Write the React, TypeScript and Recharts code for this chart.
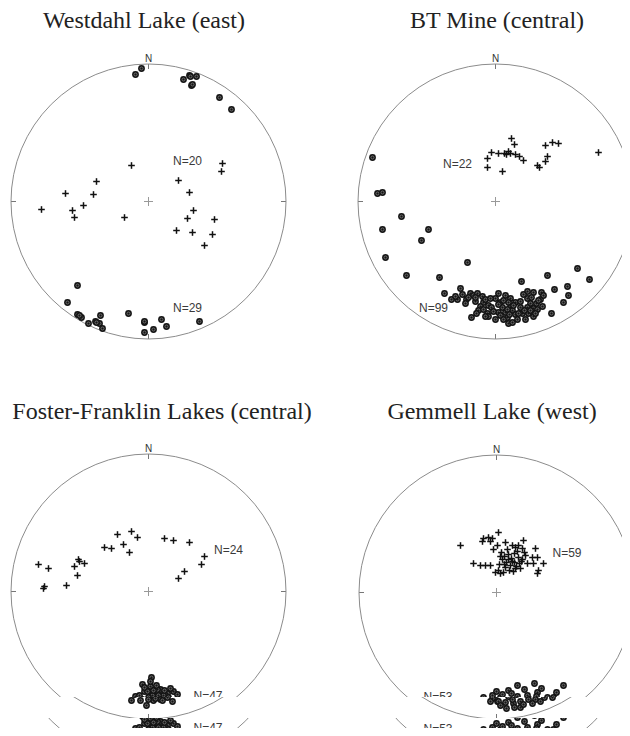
import { ScatterChart, Scatter, XAxis, YAxis, ReferenceDot, ReferenceLine } from 'recharts';

type Pt = [number, number];
type Tag = { x: number; y: number; text: string };

// net coordinates: offset from the centre of each net, east / north positive, net radius = R
const R = 137.5;
const M = 12;
const SIZE = 2 * R + 2 * M;

const TITLES = ['Westdahl Lake (east)', 'BT Mine (central)', 'Foster-Franklin Lakes (central)', 'Gemmell Lake (west)'];

const westdahlCrosses: Pt[] = [
  [-17, 36], [74, 38], [73, 30], [-52, 20], [-83, 8], [-55, 7], [-107, -8], [-76, -9], [-65, -4], [-74, -16],
  [-24, -16], [30, 21], [41, 9], [45, -9], [39, -17], [66, -18], [28, -29], [44, -31], [64, -33], [56, -44],
];
const westdahlDots: Pt[] = [
  [-13, 127], [-7, 133], [35, 122], [41, 126], [48, 125], [43, 116], [71, 104], [83, 92],
  [-71, -84], [-81, -101], [-71, -113], [-67, -116], [-60, -122], [-53, -120], [-48, -114], [-49, -122],
  [-46, -127], [-20, -112], [-4, -121], [-4, -131], [5, -128], [13, -118], [18, -125], [51, -120],
  [42, 125], [-69, -114], [-52, -121], [-4, -120], [44, 117],
];
const westdahlTags: Tag[] = [
  { x: 39, y: 41, text: 'N=20' },
  { x: 39, y: -106, text: 'N=29' },
];

const btCrosses: Pt[] = [
  [16, 63], [19, 57], [-4, 49], [3, 48], [9, 48], [13, 50], [15, 48], [20, 47], [24, 45], [28, 41], [-8, 43],
  [-8, 34], [7, 30], [50, 56], [57, 59], [63, 58], [52, 45], [50, 40], [42, 36], [44, 34], [103, 49], [11, 47],
];
const btDots: Pt[] = [
  [-123, 44], [-118, 8], [-113, 9], [-94, -15], [-113, -28], [-67, -28], [-74, -39], [-110, -56], [-28, -61], [-89, -74],
  [-56, -76], [-51, -92], [-44, -98], [-38, -98], [-35, -87], [-29, -98], [-25, -92], [-22, -94], [-18, -92], [-13, -95],
  [-12, -101], [-15, -105], [-7, -104], [-4, -106], [-8, -112], [-7, -115], [-17, -109], [-24, -116], [3, -92], [10, -94],
  [15, -97], [5, -101], [13, -101], [7, -106], [15, -106], [3, -111], [10, -111], [17, -109], [5, -114], [12, -116],
  [20, -113], [13, -122], [17, -121], [26, -80], [32, -90], [38, -91], [46, -91], [32, -97], [35, -102], [41, -102],
  [32, -106], [38, -107], [27, -112], [33, -112], [38, -115], [35, -109], [42, -108], [56, -112], [52, -74], [59, -88],
  [72, -85], [73, -94], [68, -101], [94, -78], [82, -67], [47, -105], [23, -112], [20, -101], [-20, -100], [-10, -98],
  [0, -97], [8, -99], [18, -104], [25, -100], [-2, -110], [0, -118], [22, -118], [30, -118], [-30, -102], [-40, -95],
  [28, -93], [45, -98], [-5, -97], [3, -103], [12, -108], [-12, -108], [36, -96], [40, -112], [-20, -96], [14, -113],
  [25, -106], [-33, -93], [48, -94], [-19, -112], [8, -118], [29, -109], [-10, -115], [43, -99], [-27, -96],
];
const btTags: Tag[] = [
  { x: -38, y: 38, text: 'N=22' },
  { x: -62, y: -106, text: 'N=99' },
];

const fosterCrosses: Pt[] = [
  [-31, 57], [-17, 60], [-11, 54], [-44, 44], [-37, 43], [-25, 47], [-19, 39], [16, 53], [25, 51], [41, 49],
  [56, 35], [53, 27], [36, 20], [30, 13], [-110, 27], [-100, 23], [-74, 25], [-69, 30], [-64, 28], [-71, 16],
  [-82, 6], [-105, 3], [-104, 5], [-70, 32],
];
const fosterDots: Pt[] = [
  [3, -86], [-6, -93], [2, -95], [12, -98], [25, -100], [19, -102], [15, -104], [2, -103], [7, -105], [-13, -105],
  [-17, -119], [-8, -119], [-2, -124], [24, -120], [5, -119], [12, -118], [4, -104], [10, -104], [0, -106], [20, -106],
  [-4, -100], [9, -98], [16, -99], [22, -97], [-10, -110], [-3, -112], [3, -113], [10, -112], [17, -113], [25, -110],
  [-14, -113], [7, -117], [0, -118], [14, -119], [19, -116], [-6, -108], [12, -108], [-9, -104], [5, -99], [29, -103],
  [-1, -100], [27, -112], [-20, -110], [2, -90], [8, -94], [-4, -96], [18, -110],
];
const fosterTags: Tag[] = [
  { x: 80, y: 42, text: 'N=24' },
  { x: 59.5, y: -104.5, text: 'N=47' },
];

const gemmellCrosses: Pt[] = [
  [-36, 47], [-13, 54], [-8, 55], [-4, 54], [-14, 51], [-6, 51], [2, 60], [-3, 43], [1, 47], [9, 50],
  [16, 47], [19, 45], [22, 47], [26, 44], [27, 52], [39, 44], [-23, 29], [-16, 27], [-11, 27], [-6, 27],
  [-1, 20], [4, 19], [2, 22], [31, 29], [37, 29], [36, 35], [41, 35], [47, 29], [42, 22], [41, 19],
  [29, 37], [5, 40], [8, 36], [12, 38], [15, 34], [18, 39], [22, 35], [25, 31], [10, 30], [14, 27],
  [18, 30], [6, 33], [3, 28], [9, 25], [20, 26], [24, 24], [13, 22], [17, 21], [7, 20], [21, 41],
  [11, 43], [26, 33], [4, 36], [16, 31], [12, 33], [19, 24], [8, 28], [23, 29], [28, 40],
];
const gemmellDots: Pt[] = [
  [0, -99], [12, -98], [21, -93], [38, -91], [67, -93], [31, -103], [41, -100], [51, -105], [57, -105], [-4, -103],
  [4, -105], [21, -104], [-13, -105], [1, -120], [9, -121], [17, -122], [24, -120], [32, -118], [39, -118], [44, -120],
  [16, -118], [-4, -117], [2, -120], [56, -116], [8, -110], [14, -108], [26, -110], [35, -110], [46, -112], [-8, -112],
  [0, -113], [20, -113], [30, -113], [50, -108], [6, -102], [28, -97], [45, -96], [60, -100], [-10, -108], [12, -115],
  [36, -122], [24, -126], [4, -124], [48, -116], [15, -101], [33, -107], [-2, -108], [40, -104], [18, -126], [62, -110],
  [-6, -120], [27, -123], [10, -127],
];
const gemmellTags: Tag[] = [
  { x: 70.5, y: 40, text: 'N=59' },
  { x: -58.5, y: -104, text: 'N=53' },
];

const toXY = (pts: Pt[]) => pts.map(([x, y]) => ({ x, y }));

function CrossMark(props: any) {
  const { cx, cy } = props;
  if (cx == null || cy == null) return null;
  return (
    <g>
      <line x1={cx - 3.3} y1={cy} x2={cx + 3.3} y2={cy} stroke="#111" strokeWidth={1.5} />
      <line x1={cx} y1={cy - 3.3} x2={cx} y2={cy + 3.3} stroke="#111" strokeWidth={1.5} />
    </g>
  );
}

function DotMark(props: any) {
  const { cx, cy } = props;
  if (cx == null || cy == null) return null;
  return (
    <g>
      <circle cx={cx} cy={cy} r={3.4} fill="#141414" />
      <circle cx={cx} cy={cy} r={1.5} fill="none" stroke="#8a8a8a" strokeWidth={0.7} />
    </g>
  );
}

function TagMark(props: any) {
  const { cx, cy, payload } = props;
  if (cx == null || cy == null) return null;
  return (
    <text x={cx} y={cy} textAnchor="middle" dominantBaseline="central" fontSize={12} fill="#3a3a3a">
      {payload.text}
    </text>
  );
}

const frameStroke = '#8c8c8c';

type NetProps = { left: number; top: number; crosses: Pt[]; dots: Pt[]; tags: Tag[]; showNorth?: boolean };

function Net({ left, top, crosses, dots, tags, showNorth = true }: NetProps) {
  return (
    <div style={{ position: 'absolute', left, top }}>
      <ScatterChart
        width={SIZE}
        height={SIZE}
        margin={{ top: M, right: M, bottom: M, left: M }}
        style={{ fontFamily: '"Liberation Sans", Arial, sans-serif' }}
      >
        <XAxis type="number" dataKey="x" domain={[-R, R]} hide />
        <YAxis type="number" dataKey="y" domain={[-R, R]} hide />
        <ReferenceDot x={0} y={0} r={R} fill="none" stroke={frameStroke} strokeWidth={1} />
        <ReferenceLine segment={[{ x: 0, y: R }, { x: 0, y: R - 5 }]} stroke="#777" />
        <ReferenceLine segment={[{ x: 0, y: -R }, { x: 0, y: -R + 5 }]} stroke="#777" />
        <ReferenceLine segment={[{ x: -R, y: 0 }, { x: -R + 5, y: 0 }]} stroke="#777" />
        <ReferenceLine segment={[{ x: R, y: 0 }, { x: R - 5, y: 0 }]} stroke="#777" />
        <ReferenceLine segment={[{ x: -4.5, y: 0 }, { x: 4.5, y: 0 }]} stroke="#999" />
        <ReferenceLine segment={[{ x: 0, y: -4.5 }, { x: 0, y: 4.5 }]} stroke="#999" />
        {showNorth && (
          <ReferenceDot
            x={0}
            y={R}
            r={0}
            fill="none"
            stroke="none"
            label={{ value: 'N', position: 'top', offset: 2, fontSize: 10, fill: '#333' }}
          />
        )}
        <Scatter data={toXY(dots)} shape={DotMark} isAnimationActive={false} />
        <Scatter data={toXY(crosses)} shape={CrossMark} isAnimationActive={false} />
        {tags.length > 0 && <Scatter data={tags} shape={TagMark} isAnimationActive={false} />}
      </ScatterChart>
    </div>
  );
}

// the lower half of the source scan is damaged: rows below y=697 repeat parts of the nets
const BANDS = [
  { top: 380, bottom: 697, shift: 0 },
  { top: 697, bottom: 718, shift: -10.5 },
  { top: 718, bottom: 736, shift: 32 },
];

function ScannedNet({ panelLeft, cx, cy, crosses, dots, tags }: any) {
  return (
    <>
      {BANDS.map((b, i) => {
        const visibleTags = (tags as Tag[]).filter((t) => {
          const y = cy + b.shift - t.y;
          return y + 6 > b.top && y - 6 < b.bottom;
        });
        return (
          <div
            key={i}
            style={{ position: 'absolute', left: panelLeft, top: b.top, width: 315, height: b.bottom - b.top, overflow: 'hidden' }}
          >
            <Net
              left={cx - R - M - panelLeft}
              top={cy + b.shift - R - M - b.top}
              crosses={crosses}
              dots={dots}
              tags={visibleTags}
              showNorth={i === 0}
            />
          </div>
        );
      })}
    </>
  );
}

function Title({ text, x, baseline }: { text: string; x: number; baseline: number }) {
  return (
    <div
      style={{
        position: 'absolute',
        left: x - 170,
        width: 340,
        top: baseline - 20,
        textAlign: 'center',
        fontFamily: '"Liberation Serif", "Times New Roman", serif',
        fontSize: 24,
        lineHeight: '24px',
        color: '#222',
        whiteSpace: 'nowrap',
      }}
    >
      {text}
    </div>
  );
}

export default function App() {
  return (
    <div style={{ position: 'relative', width: 630, height: 736, margin: -8, background: '#fff', overflow: 'hidden' }}>
      <Title text={TITLES[0]} x={144} baseline={28} />
      <Title text={TITLES[1]} x={497} baseline={28} />
      <Title text={TITLES[2]} x={162} baseline={419} />
      <Title text={TITLES[3]} x={492} baseline={419} />

      <Net left={148 - R - M} top={201 - R - M} crosses={westdahlCrosses} dots={westdahlDots} tags={westdahlTags} />
      <Net left={495 - R - M} top={201 - R - M} crosses={btCrosses} dots={btDots} tags={btTags} />

      <ScannedNet panelLeft={0} cx={148} cy={591.5} crosses={fosterCrosses} dots={fosterDots} tags={fosterTags} />
      <ScannedNet panelLeft={315} cx={496} cy={592} crosses={gemmellCrosses} dots={gemmellDots} tags={gemmellTags} />
    </div>
  );
}
